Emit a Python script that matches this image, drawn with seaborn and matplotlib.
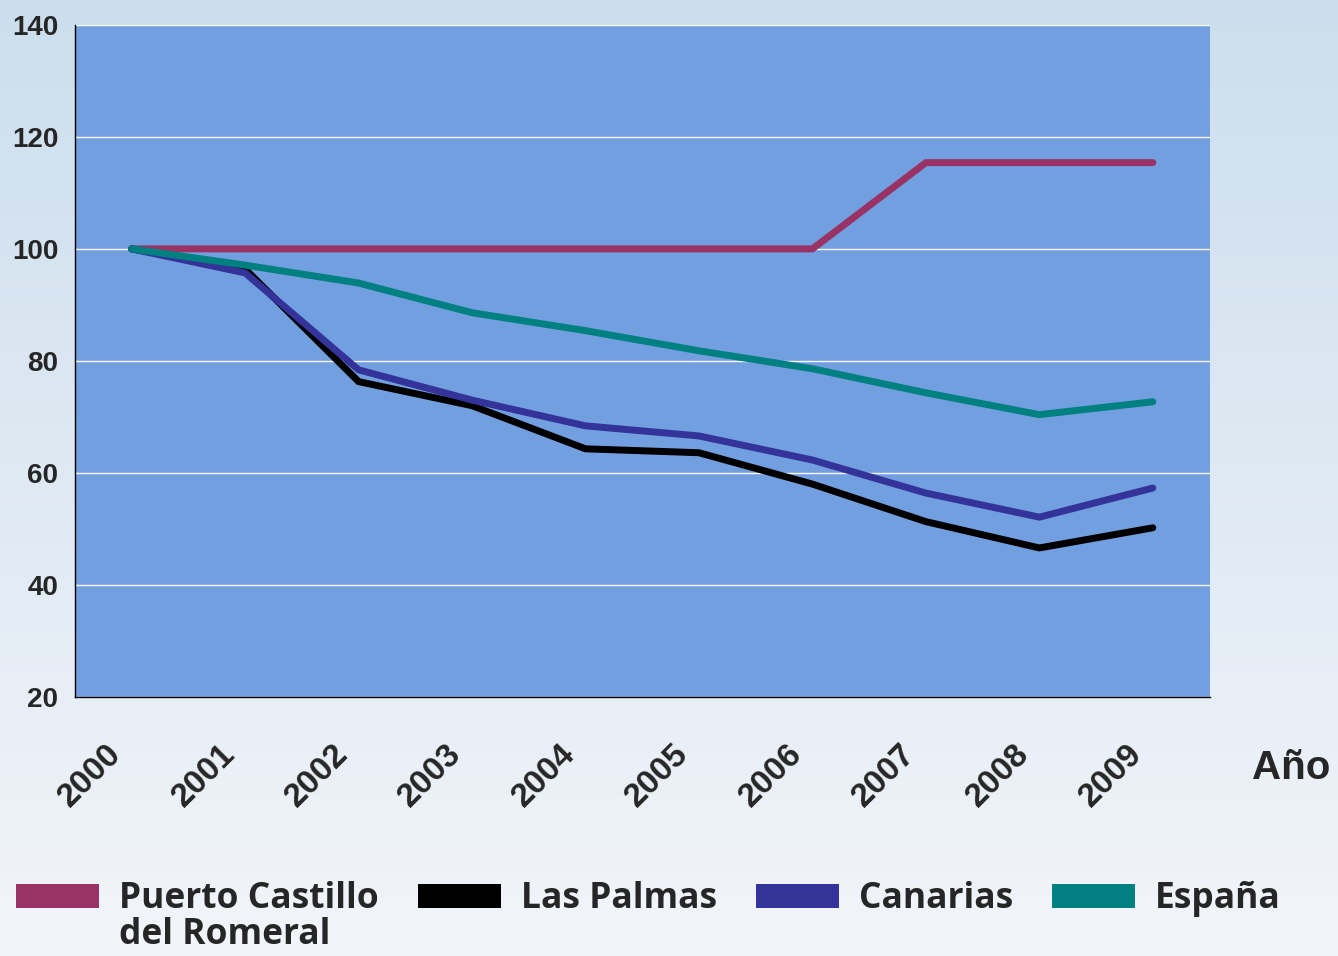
import numpy as np
import pandas as pd
import matplotlib
matplotlib.use("Agg")
import matplotlib.pyplot as plt
import matplotlib.transforms as mtransforms
from matplotlib.patches import Patch
import seaborn as sns

years = ["2000", "2001", "2002", "2003", "2004", "2005", "2006", "2007", "2008", "2009"]
puerto = [100, 100, 100, 100, 100, 100, 100, 115.4, 115.4, 115.4]
las_palmas = [100, 96.4, 76.3, 72.0, 64.3, 63.6, 58.0, 51.3, 46.6, 50.2]
canarias = [100, 95.7, 78.4, 73.0, 68.4, 66.6, 62.3, 56.4, 52.1, 57.3]
espana = [100, 97.1, 93.9, 88.6, 85.4, 81.8, 78.6, 74.3, 70.4, 72.7]

series_names = ["Puerto Castillo", "Las Palmas", "Canarias", "España"]
colors = ["#993366", "#000000", "#333399", "#008080"]

df = pd.DataFrame({
    "idx": list(range(len(years))) * 4,
    "valor": puerto + las_palmas + canarias + espana,
    "serie": np.repeat(series_names, len(years)),
})

sns.set_style("white")
plt.rcParams["font.family"] = ["Liberation Sans", "DejaVu Sans"]

fig = plt.figure(figsize=(13.38, 9.56), dpi=100)

# fondo degradado
bg = fig.add_axes([0, 0, 1, 1], zorder=-10)
grad = np.linspace(0, 1, 256).reshape(-1, 1)
top = np.array([0.80, 0.87, 0.93])
bot = np.array([0.95, 0.96, 0.98])
img = top[None, None, :] * (1 - grad[:, :, None]) + bot[None, None, :] * grad[:, :, None]
bg.imshow(img, aspect="auto", extent=[0, 1, 0, 1])
bg.axis("off")

ax = fig.add_axes([0.056, 0.271, 0.848, 0.703])
ax.set_facecolor("#729FDF")

sns.lineplot(data=df, x="idx", y="valor", hue="serie", palette=colors,
             hue_order=series_names, linewidth=5, ax=ax, legend=False,
             solid_capstyle="round")

ax.set_xlim(-0.5, len(years) - 0.5)
ax.set_ylim(20, 140)
ax.set_yticks(range(20, 141, 20))
ax.grid(axis="y", color="white", linewidth=1)
ax.set_axisbelow(True)

ax.set_xticks(np.arange(-0.5, len(years), 1))
ax.set_xticklabels([])
ax.set_xticks(range(len(years)), minor=True)
ax.set_xticklabels(years, minor=True, rotation=45, ha="right",
                   rotation_mode="anchor", fontsize=24, fontweight="bold")
ax.tick_params(axis="x", which="minor", length=0, pad=30)
ax.tick_params(axis="x", which="major", length=8, width=1, color="black", direction="out")
ax.tick_params(axis="y", length=8, width=1, color="black", direction="out",
               labelsize=20, pad=4)
for lbl in ax.get_yticklabels():
    lbl.set_fontweight("bold")
shift = mtransforms.ScaledTranslation(-26 / 100, 0, fig.dpi_scale_trans)
for lbl in ax.get_xticklabels(minor=True):
    lbl.set_transform(lbl.get_transform() + shift)

for s in ["top", "right"]:
    ax.spines[s].set_visible(False)
for s in ["left", "bottom"]:
    ax.spines[s].set_color("black")
    ax.spines[s].set_linewidth(1)

ax.set_xlabel("Año", fontsize=29, fontweight="bold")
ax.xaxis.set_label_coords(1.072, -0.077)
ax.set_ylabel("")

leg_font = {"family": "Open Sans", "weight": "bold", "size": 25.5}
handles = [Patch(facecolor=c, edgecolor="none") for c in colors]
leg = fig.legend(handles, series_names, loc="upper left", bbox_to_anchor=(0.012, 0.078),
                 ncol=4, frameon=False, handlelength=2.35, handleheight=0.65,
                 handletextpad=0.56, columnspacing=1.1, borderpad=0, borderaxespad=0,
                 prop=leg_font)

# segunda línea de la primera etiqueta
fig.canvas.draw()
bb = leg.get_texts()[0].get_window_extent()
x0, y0 = fig.transFigure.inverted().transform((bb.x0, bb.y0))
fig.text(x0, y0, "del Romeral", ha="left", va="top", **{
    "family": leg_font["family"], "weight": "bold", "size": leg_font["size"]})

fig.savefig("out.png", dpi=100)
